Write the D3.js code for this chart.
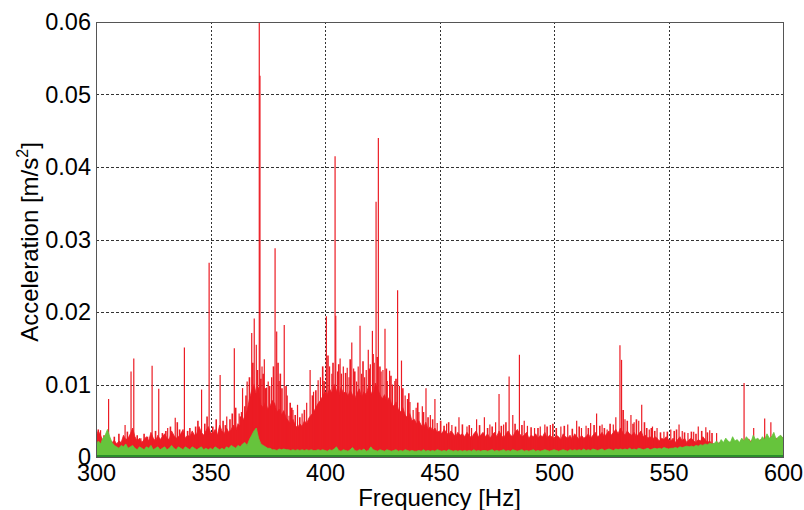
<!DOCTYPE html>
<html>
<head>
<meta charset="utf-8">
<script src="https://cdn.jsdelivr.net/npm/d3@7/dist/d3.min.js"></script>
<style>
  body { margin: 0; background: #fff; }
  text { font-family: "Liberation Sans", Arial, sans-serif; fill: #000; }
</style>
</head>
<body>
<svg id="chart" width="804" height="510"></svg>
<script>
// Spectrum values (units of 1e-3 m/s^2), one value per Hz from 300 Hz
var freqStart = 300;

// dense red body (envelope of the noise floor)
var redBody = [
  2.8, 3.6, 3.0, 2.2, 2.6, 3.4, 2.4, 2.0, 2.3, 1.8,
  2.2, 2.0, 3.0, 2.4, 2.6, 3.2, 4.0, 2.8, 2.2, 2.6,
  2.0, 2.4, 2.8, 2.2, 3.4, 2.6, 2.2, 3.0, 2.4, 2.8,
  3.2, 2.6, 2.4, 3.6, 3.0, 2.6, 2.8, 3.2, 3.8, 2.6,
  3.0, 2.8, 3.6, 3.0, 3.2, 4.2, 3.4, 3.0, 3.6, 4.2,
  3.4, 3.2, 3.8, 3.0, 4.4, 3.6, 3.2, 4.0, 3.4, 3.8,
  4.4, 3.6, 4.6, 4.2, 5.0, 5.6, 6.4, 8.0, 9.2, 10.0,
  8.6, 9.6, 7.2, 6.8, 7.6, 6.6, 7.0, 7.8, 7.4, 6.2,
  6.6, 5.8, 6.4, 5.4, 5.0, 4.6, 5.2, 4.4, 4.0, 4.6,
  4.2, 5.0, 4.6, 5.4, 5.8, 6.2, 6.8, 7.4, 7.8, 8.4,
  9.0, 8.6, 9.4, 8.8, 10.0, 9.2, 8.4, 9.6, 8.8, 9.0,
  8.4, 9.2, 8.6, 8.0, 8.8, 9.4, 8.2, 9.0, 8.6, 9.8,
  9.0, 8.4, 10.2, 9.4, 8.6, 8.0, 8.6, 7.6, 8.2, 7.4,
  7.0, 7.6, 6.6, 6.2, 6.8, 5.8, 5.4, 6.0, 5.0, 5.2,
  4.6, 5.0, 4.4, 4.0, 4.8, 3.8, 4.2, 3.6, 4.0, 3.4,
  3.6, 3.2, 3.8, 3.4, 3.0, 3.6, 3.2, 2.8, 3.4, 3.0,
  3.2, 2.8, 3.4, 3.0, 2.6, 3.2, 3.6, 2.8, 3.0, 3.4,
  2.8, 3.2, 2.6, 3.0, 3.4, 2.8, 3.6, 3.0, 2.6, 3.2,
  3.6, 3.0, 2.8, 3.4, 3.8, 3.2, 2.8, 3.0, 3.4, 2.6,
  3.0, 2.8, 3.2, 2.6, 3.0, 2.8, 3.4, 2.6, 3.0, 2.8,
  2.6, 3.0, 2.8, 2.4, 3.2, 2.8, 2.6, 3.0, 2.4, 3.2,
  2.8, 2.4, 3.0, 2.6, 2.8, 3.2, 2.6, 3.0, 3.4, 2.8,
  3.0, 3.4, 2.8, 3.2, 3.6, 3.0, 3.4, 3.8, 3.2, 4.0,
  3.4, 3.0, 3.6, 3.2, 3.0, 3.4, 2.8, 3.2, 3.6, 2.8,
  3.0, 2.6, 2.8, 2.4, 2.8, 2.6, 2.2, 2.6, 2.4, 2.8,
  2.4, 2.2, 2.6, 2.0, 2.4, 2.8, 2.2, 2.6, 2.0, 2.4,
  2.6, 2.2, 2.0, 2.4, 2.2, 2.8, 2.4, 2.0, 2.2, 1.8,
  1.8, 1.6, 2.0, 1.7, 1.9, 2.2, 1.8, 2.0, 2.3, 1.9,
  2.1, 1.8, 2.4, 2.2, 1.9, 2.5, 2.1, 2.6, 2.2, 2.0,
  2.4, 2.1, 2.6, 2.2, 2.5, 2.8, 2.3, 2.6, 2.4, 2.9,
  2.6
];

// green spectrum
var greenBody = [
  1.6, 2.2, 1.8, 2.6, 3.0, 3.8, 2.8, 2.0, 1.6, 1.4,
  1.2, 1.6, 1.4, 1.8, 1.2, 1.4, 1.6, 1.2, 1.0, 1.4,
  1.2, 1.0, 1.4, 1.2, 1.6, 1.0, 1.2, 1.4, 1.0, 1.2,
  1.4, 1.0, 1.2, 1.6, 1.2, 1.0, 1.4, 1.2, 1.0, 1.4,
  1.2, 1.0, 1.4, 1.2, 1.0, 1.2, 1.4, 1.0, 1.2, 1.0,
  1.2, 1.0, 1.4, 1.2, 1.0, 1.2, 1.0, 1.4, 1.2, 1.6,
  1.4, 1.2, 1.6, 1.4, 1.8, 2.0, 1.6, 2.4, 3.0, 3.6,
  4.0, 2.6, 1.8, 1.6, 1.4, 1.2, 1.2, 1.0, 1.0, 0.9,
  1.1, 1.0, 1.1, 1.0, 1.0, 0.9, 1.0, 0.9, 1.0, 0.9,
  1.0, 0.9, 1.0, 0.9, 1.0, 0.9, 0.9, 1.0, 0.9, 1.0,
  0.9, 0.8, 1.0, 0.9, 1.1, 1.4, 0.9, 0.8, 1.0, 0.9,
  0.8, 1.0, 1.3, 0.9, 0.8, 1.0, 0.9, 1.1, 0.8, 0.9,
  1.4, 1.0, 0.9, 0.8, 1.0, 0.9, 0.8, 1.0, 0.9, 0.8,
  0.9, 1.0, 0.8, 0.9, 0.8, 1.0, 0.9, 0.8, 0.9, 0.8,
  0.8, 0.9, 0.8, 1.0, 0.8, 0.9, 0.8, 0.9, 0.8, 1.0,
  0.9, 0.8, 0.9, 0.8, 1.0, 0.9, 0.8, 0.9, 0.8, 0.9,
  0.8, 0.9, 0.8, 0.9, 0.8, 1.0, 0.8, 0.9, 0.8, 0.9,
  0.9, 0.8, 0.9, 1.0, 0.8, 0.9, 0.8, 0.9, 1.0, 0.8,
  0.9, 0.8, 1.0, 0.9, 0.8, 0.9, 1.0, 0.8, 0.9, 0.8,
  0.9, 1.0, 0.8, 0.9, 0.8, 0.9, 1.0, 0.9, 0.8, 0.9,
  1.0, 0.9, 0.8, 0.9, 1.0, 0.9, 0.8, 1.0, 0.9, 1.0,
  0.9, 1.0, 0.9, 1.1, 0.9, 1.0, 0.9, 1.1, 1.0, 0.9,
  1.0, 1.1, 0.9, 1.0, 1.1, 1.0, 0.9, 1.1, 1.0, 1.1,
  1.0, 1.1, 1.0, 1.2, 1.0, 1.1, 1.0, 1.2, 1.1, 1.0,
  1.1, 1.2, 1.0, 1.1, 1.2, 1.1, 1.2, 1.1, 1.3, 1.2,
  1.1, 1.2, 1.2, 1.3, 1.2, 1.4, 1.3, 1.4, 1.5, 1.4,
  1.5, 1.4, 1.6, 1.5, 1.7, 1.6, 1.8, 1.7, 1.9, 1.8,
  1.9, 2.2, 1.8, 2.4, 2.0, 2.6, 2.2, 2.0, 2.8, 2.2,
  2.4, 2.0, 2.6, 2.2, 2.8, 2.4, 2.0, 3.0, 2.4, 2.6,
  2.2, 2.8, 2.4, 3.2, 2.6, 2.8, 3.4, 2.4, 2.8, 3.0,
  2.6
];

// distinct red spectral lines: [frequency Hz, amplitude 1e-3 m/s^2]
var redPeaks = [
  [302.0, 3.7], [305.5, 8.0], [312.7, 4.4], [315.3, 11.8], [316.5, 13.6], [319.6, 2.6],
  [324.5, 12.6], [327.4, 9.4], [331.3, 4.0], [334.6, 5.4], [338.6, 15.1], [342.0, 3.1],
  [346.1, 9.3], [349.4, 26.8], [354.2, 11.3], [357.1, 5.6], [360.4, 15.0], [362.5, 6.0],
  [363.5, 6.2], [364.0, 9.5], [366.0, 10.4], [368.0, 17.1], [369.1, 19.1], [370.0, 15.5],
  [371.3, 61.0], [371.6, 52.6], [372.5, 12.5], [373.5, 13.5], [374.5, 9.6], [375.2, 10.4],
  [376.7, 11.0], [378.2, 28.8], [378.9, 17.3], [380.0, 10.5], [382.2, 18.2], [383.5, 8.5],
  [384.3, 5.7], [386.0, 6.5], [388.0, 7.2], [390.0, 6.0], [392.0, 7.5], [393.5, 12.0],
  [395.0, 9.0], [397.0, 10.6], [398.0, 11.0], [400.6, 19.4], [402.0, 12.5], [403.0, 11.5],
  [404.4, 41.5], [404.7, 19.5], [405.5, 11.8], [406.6, 13.6], [407.2, 11.5], [408.0, 12.5],
  [409.7, 12.3], [410.5, 11.0], [411.7, 15.8], [412.5, 12.2], [413.8, 10.4], [414.5, 12.5],
  [415.3, 18.1], [416.0, 11.5], [417.3, 11.0], [418.0, 12.0], [418.9, 14.8], [419.8, 12.8],
  [420.7, 17.4], [421.5, 13.0], [422.3, 35.2], [423.3, 44.0], [424.5, 11.8], [425.3, 12.0],
  [426.2, 17.7], [427.2, 10.5], [428.2, 11.9], [429.5, 10.0], [430.5, 10.5], [431.7, 23.0],
  [432.5, 9.8], [433.4, 13.3], [435.0, 8.5], [436.0, 8.0], [437.1, 7.6], [438.5, 6.5],
  [439.8, 6.8], [441.0, 6.2], [442.5, 7.0], [444.1, 9.5], [446.0, 5.8], [448.0, 8.0],
  [449.0, 4.7], [453.1, 4.6], [455.4, 4.4], [458.5, 5.5], [462.0, 4.2], [464.0, 4.0],
  [466.2, 5.2], [469.6, 5.5], [472.0, 4.5], [474.5, 4.8], [476.0, 8.7], [478.0, 4.5],
  [480.4, 11.1], [482.0, 5.8], [484.9, 14.1], [487.0, 5.0], [488.4, 4.3], [491.5, 4.0],
  [494.0, 4.2], [496.0, 4.5], [498.4, 4.4], [503.0, 4.2], [506.0, 4.5], [509.9, 5.0],
  [512.0, 4.0], [514.0, 4.3], [516.0, 4.7], [518.6, 6.0], [521.0, 4.5], [523.2, 3.8],
  [525.9, 4.5], [527.0, 5.5], [528.8, 15.4], [529.5, 13.4], [531.0, 5.2], [533.6, 5.8],
  [535.0, 4.8], [537.0, 5.0], [538.3, 7.2], [541.6, 3.8], [543.0, 4.2], [545.0, 4.0],
  [548.0, 3.5], [551.0, 3.8], [554.6, 4.5], [556.0, 3.6], [558.5, 3.3], [561.0, 3.5],
  [563.0, 4.2], [566.3, 4.1], [568.0, 3.7], [571.0, 3.3], [583.0, 10.2], [587.2, 4.0],
  [592.0, 5.3], [594.7, 4.8]
];

// smaller red lines that make the ragged top of the noise floor
var redMinor = [
  [301.0, 3.8], [303.5, 3.0], [308.0, 2.8], [310.0, 3.2], [313.7, 3.5], [318.0, 3.0],
  [321.0, 3.2], [322.5, 2.8], [326.0, 3.6], [329.0, 3.3], [330.5, 3.6], [332.5, 4.2],
  [335.5, 4.8], [336.5, 3.8], [340.0, 3.6], [341.0, 4.0], [343.5, 4.2], [344.5, 5.0],
  [347.5, 4.6], [348.5, 5.6], [351.0, 4.2], [352.5, 5.2], [355.5, 5.0], [356.5, 4.4],
  [358.5, 5.2], [359.5, 6.0], [361.0, 6.8], [363.0, 5.6], [365.0, 7.0], [365.5, 8.5],
  [367.0, 11.0], [368.5, 13.0], [370.5, 12.0], [372.0, 10.8], [373.0, 11.5], [374.0, 9.5],
  [375.8, 9.8], [377.5, 12.5], [379.5, 13.0], [380.5, 11.5], [381.2, 9.5], [383.0, 9.8],
  [384.8, 7.5], [385.5, 6.8], [387.0, 5.8], [389.0, 5.5], [391.0, 6.5], [394.5, 8.5],
  [396.0, 9.2], [399.0, 12.5], [399.6, 10.5], [401.3, 14.0], [403.5, 13.0], [406.0, 12.8],
  [409.0, 11.6], [411.0, 13.5], [413.0, 11.8], [416.6, 13.2], [419.3, 12.2], [421.0, 14.2],
  [422.8, 13.8], [424.0, 12.5], [426.8, 12.2], [428.8, 11.2], [431.0, 10.8], [434.0, 9.5],
  [436.6, 8.8], [440.5, 7.5], [443.0, 6.2], [445.0, 5.5], [447.0, 5.2], [450.5, 5.0],
  [452.0, 4.3], [454.0, 4.8], [457.0, 4.2], [460.0, 4.5], [463.0, 4.4], [467.5, 4.4],
  [471.0, 4.0], [473.0, 4.2], [477.0, 4.3], [479.0, 4.8], [483.0, 4.6], [486.0, 4.4],
  [490.0, 4.1], [493.0, 4.0], [497.0, 4.2], [499.5, 4.6], [501.0, 4.0], [504.5, 4.3],
  [508.0, 3.9], [511.0, 4.2], [515.0, 4.0], [517.5, 4.4], [520.0, 4.3], [522.0, 4.0],
  [524.5, 4.6], [530.2, 6.5], [532.0, 5.0], [534.5, 4.6], [536.0, 5.2], [539.5, 4.8],
  [540.5, 4.0], [542.5, 4.0], [544.0, 3.6], [546.5, 3.4], [549.5, 3.5], [552.5, 3.6],
  [553.5, 3.8], [557.0, 3.4], [560.0, 3.5], [562.0, 3.2], [564.5, 3.6], [567.0, 3.4],
  [569.0, 3.3]
];

var xTicks = [300, 350, 400, 450, 500, 550, 600];
var yTicks = [0, 0.01, 0.02, 0.03, 0.04, 0.05, 0.06];
var xLabel = "Frequency [Hz]";
var yLabelMain = "Acceleration [m/s";
var yLabelSup = "2";

// layout
var margin = { top: 22, right: 21, bottom: 53, left: 96 };
var width = 804, height = 510;
var redColor = "#ec1c24";
var greenColor = "#66c43c";

var svg = d3.select("#chart");

var xScale = d3.scaleLinear()
    .domain([300, 600])
    .range([margin.left, width - margin.right]);

var yScale = d3.scaleLinear()
    .domain([0, 0.06])
    .range([height - margin.bottom, margin.top]);

function toSeries(arr) {
    return arr.map(function(v, i) { return { f: freqStart + i, a: v / 1000 }; });
}

svg.append("defs").append("clipPath").attr("id", "plotClip")
    .append("rect")
    .attr("x", xScale(300)).attr("y", yScale(0.06))
    .attr("width", xScale(600) - xScale(300))
    .attr("height", yScale(0) - yScale(0.06));

// grid
var grid = svg.append("g").attr("class", "grid");
grid.selectAll("line.vg")
    .data(xTicks.slice(1, -1))
    .enter().append("line")
    .attr("class", "vg")
    .attr("x1", function(d) { return Math.round(xScale(d)) + 0.5; })
    .attr("x2", function(d) { return Math.round(xScale(d)) + 0.5; })
    .attr("y1", yScale(0.06)).attr("y2", yScale(0))
    .attr("stroke", "#333").attr("stroke-width", 1)
    .attr("stroke-dasharray", "2,2");
grid.selectAll("line.hg")
    .data(yTicks.slice(1, -1))
    .enter().append("line")
    .attr("class", "hg")
    .attr("x1", xScale(300)).attr("x2", xScale(600))
    .attr("y1", function(d) { return Math.round(yScale(d)) + 0.5; })
    .attr("y2", function(d) { return Math.round(yScale(d)) + 0.5; })
    .attr("stroke", "#333").attr("stroke-width", 1)
    .attr("stroke-dasharray", "3,2");

var plot = svg.append("g").attr("clip-path", "url(#plotClip)");

// red spectrum
var area = d3.area()
    .x(function(d) { return xScale(d.f); })
    .y0(yScale(0))
    .y1(function(d) { return yScale(d.a); });

plot.append("path")
    .datum(toSeries(redBody))
    .attr("d", area)
    .attr("fill", redColor)
    .attr("stroke", redColor)
    .attr("stroke-width", 0.8);

plot.selectAll("line.minor")
    .data(redMinor)
    .enter().append("line")
    .attr("class", "minor")
    .attr("x1", function(d) { return xScale(d[0]); })
    .attr("x2", function(d) { return xScale(d[0]); })
    .attr("y1", yScale(0))
    .attr("y2", function(d) { return yScale(d[1] / 1000); })
    .attr("stroke", redColor)
    .attr("stroke-width", 1.6);

plot.selectAll("line.peak")
    .data(redPeaks)
    .enter().append("line")
    .attr("class", "peak")
    .attr("x1", function(d) { return xScale(d[0]); })
    .attr("x2", function(d) { return xScale(d[0]); })
    .attr("y1", yScale(0))
    .attr("y2", function(d) { return yScale(d[1] / 1000); })
    .attr("stroke", redColor)
    .attr("stroke-width", 1.2);

// green spectrum on top
plot.append("path")
    .datum(toSeries(greenBody))
    .attr("d", area)
    .attr("fill", greenColor)
    .attr("stroke", greenColor)
    .attr("stroke-width", 0.8);

plot.append("line")
    .attr("x1", xScale(300)).attr("x2", xScale(600))
    .attr("y1", yScale(0.00015)).attr("y2", yScale(0.00015))
    .attr("stroke", "#2a8f2a").attr("stroke-width", 2);

// frame
svg.append("rect")
    .attr("x", xScale(300) + 0.5).attr("y", yScale(0.06) + 0.5)
    .attr("width", xScale(600) - xScale(300))
    .attr("height", yScale(0) - yScale(0.06))
    .attr("fill", "none")
    .attr("stroke", "#555")
    .attr("stroke-width", 1);

// axes
var xAxis = d3.axisBottom(xScale).tickValues(xTicks).tickSize(0).tickPadding(7)
    .tickFormat(d3.format("d"));
var gx = svg.append("g")
    .attr("transform", "translate(0," + yScale(0) + ")")
    .call(xAxis);
gx.select(".domain").remove();
gx.selectAll("text").attr("font-size", 23.5).attr("font-family", null);

var yAxis = d3.axisLeft(yScale).tickValues(yTicks).tickSize(0).tickPadding(5)
    .tickFormat(function(d) { return d === 0 ? "0" : d.toFixed(2); });
var gy = svg.append("g")
    .attr("transform", "translate(" + xScale(300) + ",0)")
    .call(yAxis);
gy.select(".domain").remove();
gy.selectAll("text").attr("font-size", 23.5).attr("font-family", null);

// axis titles
svg.append("text")
    .attr("x", (xScale(300) + xScale(600)) / 2)
    .attr("y", 506)
    .attr("text-anchor", "middle")
    .attr("font-size", 24)
    .text(xLabel);

var yl = svg.append("text")
    .attr("transform", "translate(38,242) rotate(-90)")
    .attr("text-anchor", "middle")
    .attr("font-size", 24);
yl.append("tspan").text(yLabelMain);
yl.append("tspan").attr("font-size", 16).attr("dy", -10).text(yLabelSup);
yl.append("tspan").attr("dy", 10).text("]");
</script>
</body>
</html>
